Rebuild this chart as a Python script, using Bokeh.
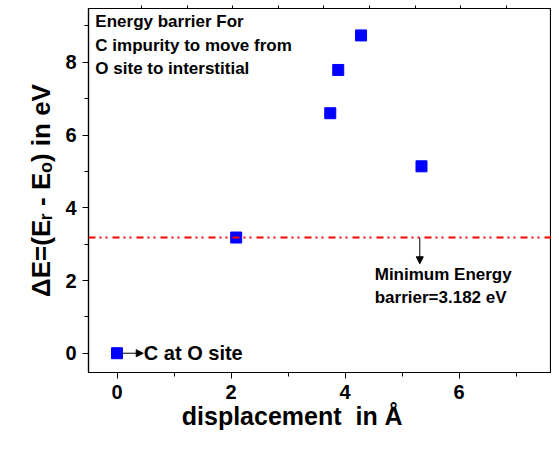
from bokeh.plotting import figure
from bokeh.models import Range1d, LinearAxis, Span, Arrow, NormalHead, Label, FixedTicker
from bokeh.embed import file_html
from bokeh.resources import INLINE

disp = [0.0, 2.09, 3.74, 3.88, 4.28, 5.34]
energy = [0.0, 3.182, 6.6, 7.79, 8.74, 5.14]
barrier = 3.182
x_ticks = [0, 2, 4, 6]
y_ticks = [0, 2, 4, 6, 8]
top_ticks = [0.43, 1.23, 2.03, 2.83, 3.63, 4.43, 5.23, 6.03, 6.83]

FONT = "Liberation Sans"

p = figure(width=551, height=434, output_backend="svg", toolbar_location=None,
           x_range=Range1d(-0.5, 7.62), y_range=Range1d(-0.53, 9.48),
           min_border_left=88, min_border_right=0, min_border_top=8, min_border_bottom=62)
p.grid.visible = False
p.outline_line_color = "black"
p.outline_line_width = 1.2

for ax in (p.xaxis[0], p.yaxis[0]):
    ax.axis_line_width = 1.2
    ax.major_tick_out = 6
    ax.major_tick_in = 0
    ax.minor_tick_out = 4
    ax.minor_tick_in = 0
    ax.major_label_text_font = FONT
    ax.major_label_text_font_style = "bold"
    ax.major_label_text_font_size = "20px"
    ax.major_label_text_color = "black"
    ax.axis_label_text_font = FONT
    ax.axis_label_text_font_style = "bold"
    ax.axis_label_text_color = "black"

p.xaxis.ticker = FixedTicker(ticks=x_ticks, minor_ticks=[1, 3, 5, 7])
p.yaxis.ticker = FixedTicker(ticks=y_ticks, minor_ticks=[1, 3, 5, 7, 9])
p.xaxis.axis_label = "displacement\u00a0 in Å" + "\u00a0" * 8
p.yaxis.axis_label = "ΔE=(Eᵣ - Eₒ) in eV"
p.xaxis.axis_label_text_font_size = "25px"
p.yaxis.axis_label_text_font_size = "26px"
p.xaxis.axis_label_standoff = 0
p.yaxis.axis_label_standoff = 6
p.xaxis.major_label_standoff = 6
p.yaxis.major_label_standoff = 6

top = LinearAxis(ticker=FixedTicker(ticks=top_ticks, minor_ticks=[]),
                 major_label_overrides={t: "" for t in top_ticks},
                 major_tick_in=0, major_tick_out=3, major_tick_line_width=1,
                 minor_tick_in=0, minor_tick_out=0, axis_line_color=None)
p.add_layout(top, "above")

p.scatter(disp, energy, marker="square", size=11, fill_color="#0000ff", line_color="#0000ff")

p.add_layout(Span(location=barrier, dimension="width", line_color="#ff0000",
                  line_width=2, line_dash="7 4 2 4 2 5", level="overlay"))

p.add_layout(Arrow(x_start=5.31, y_start=barrier, x_end=5.31, y_end=2.46,
                   line_color="black", line_width=1,
                   end=NormalHead(size=7, fill_color="black", line_color="black")))
p.add_layout(Arrow(x_start=0.1, y_start=0.0, x_end=0.46, y_end=0.0,
                   line_color="black", line_width=1,
                   end=NormalHead(size=7, fill_color="black", line_color="black")))

def lab(x, y, t, size="17px", align="left", base="middle"):
    p.add_layout(Label(x=x, y=y, text=t, text_font=FONT, text_font_style="bold",
                       text_font_size=size, text_color="black", text_align=align,
                       text_baseline=base))

lab(-0.38, 9.11, "Energy barrier For")
lab(-0.38, 8.47, "C impurity to move from")
lab(-0.38, 7.84, "O site to interstitial")
lab(4.52, 2.17, "Minimum Energy")
lab(4.52, 1.53, "barrier=3.182 eV")
lab(0.47, 0.0, "C at O site", size="20px")

open("out.html", "w").write(file_html(p, INLINE))
